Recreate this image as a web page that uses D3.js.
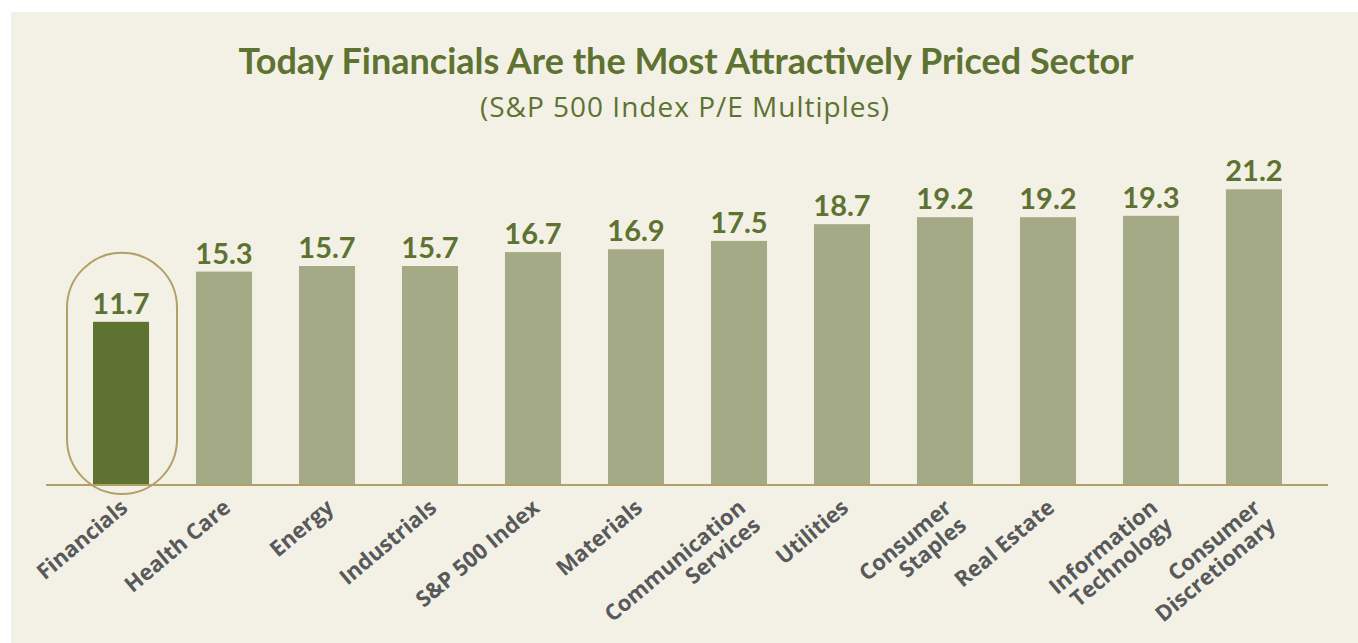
<!DOCTYPE html>
<html>
<head>
<meta charset="utf-8">
<script src="https://cdn.jsdelivr.net/npm/d3@7"></script>
<style>
  html, body { margin: 0; padding: 0; background: #ffffff; }
  svg { display: block; }
</style>
</head>
<body>
<svg id="chart" width="1358" height="643"></svg>
<script>
const categories = ["Financials", "Health Care", "Energy", "Industrials", "S&P 500 Index", "Materials",
  "Communication\nServices", "Utilities", "Consumer\nStaples", "Real Estate", "Information\nTechnology", "Consumer\nDiscretionary"];
const peValues = [11.7, 15.3, 15.7, 15.7, 16.7, 16.9, 17.5, 18.7, 19.2, 19.2, 19.3, 21.2];
const highlighted = ["Financials"];
const titleText = "Today Financials Are the Most Attractively Priced Sector";
const subtitleText = "(S&P 500 Index P/E Multiples)";

const W = 1358, H = 643;
const svg = d3.select("#chart");
const font = "Lato, 'Open Sans', sans-serif";
const font2 = "'Open Sans', Lato, sans-serif";

const dark = "#5E7232", light = "#A3AA85", tan = "#B3A066", bg = "#F3F1E5", grey = "#58595B";

svg.append("rect").attr("x", 11).attr("y", 12).attr("width", W - 11).attr("height", H - 12).attr("fill", bg);

svg.append("text").attr("x", 686).attr("y", 74).attr("text-anchor", "middle")
  .attr("font-family", font).attr("font-weight", 700).attr("font-size", 36).attr("fill", dark)
  .text(titleText);
svg.append("text").attr("x", 685).attr("y", 117).attr("text-anchor", "middle")
  .attr("font-family", font2).attr("font-weight", 400).attr("font-size", 28)
  .attr("letter-spacing", 1).attr("fill", dark)
  .text(subtitleText);

const x = d3.scaleBand().domain(categories).range([93, 1282]).paddingInner(0.456).paddingOuter(0);
const y = d3.scaleLinear().domain([0, 21.2]).range([485, 189.3]);

const data = categories.map((c, i) => ({ c, v: peValues[i] }));

// highlight pill around Financials
const hc = categories[0];
const pillW = 110;
svg.append("rect")
  .attr("x", x(hc) + x.bandwidth() / 2 - pillW / 2 + 1)
  .attr("y", y(peValues[0]) - 69)
  .attr("width", pillW)
  .attr("height", y(0) + 9 - (y(peValues[0]) - 69))
  .attr("rx", pillW / 2).attr("ry", pillW / 2)
  .attr("fill", "none").attr("stroke", tan).attr("stroke-width", 2);

svg.append("g").selectAll("rect").data(data).join("rect")
  .attr("x", d => x(d.c)).attr("width", x.bandwidth())
  .attr("y", d => y(d.v)).attr("height", d => y(0) - y(d.v))
  .attr("fill", d => highlighted.includes(d.c) ? dark : light);

svg.append("g").selectAll("text").data(data).join("text")
  .attr("x", d => x(d.c) + x.bandwidth() / 2).attr("y", d => y(d.v) - 8)
  .attr("text-anchor", "middle")
  .attr("font-family", font).attr("font-weight", 700).attr("font-size", 29).attr("fill", dark)
  .text(d => d.v.toFixed(1));

// baseline axis
const axis = d3.axisBottom(x).tickSize(0).tickFormat("");
const ag = svg.append("g").attr("transform", `translate(0,${y(0)})`).call(axis);
ag.select(".domain").remove();
svg.append("line").attr("x1", 46).attr("x2", 1328).attr("y1", y(0)).attr("y2", y(0))
  .attr("stroke", tan).attr("stroke-width", 2);

const lab = svg.append("g").selectAll("text").data(categories).join("text")
  .attr("transform", d => `translate(${x(d) + x.bandwidth() / 2 + 8},${y(0) + 25}) rotate(-40)`)
  .attr("text-anchor", "end")
  .attr("font-family", font2).attr("font-weight", 700).attr("font-size", 22).attr("fill", grey);
lab.each(function(d) {
  const lines = d.split("\n");
  d3.select(this).selectAll("tspan").data(lines).join("tspan")
    .attr("x", 0).attr("dy", (l, i) => i === 0 ? 0 : "1.05em").text(l => l);
});
</script>
</body>
</html>
